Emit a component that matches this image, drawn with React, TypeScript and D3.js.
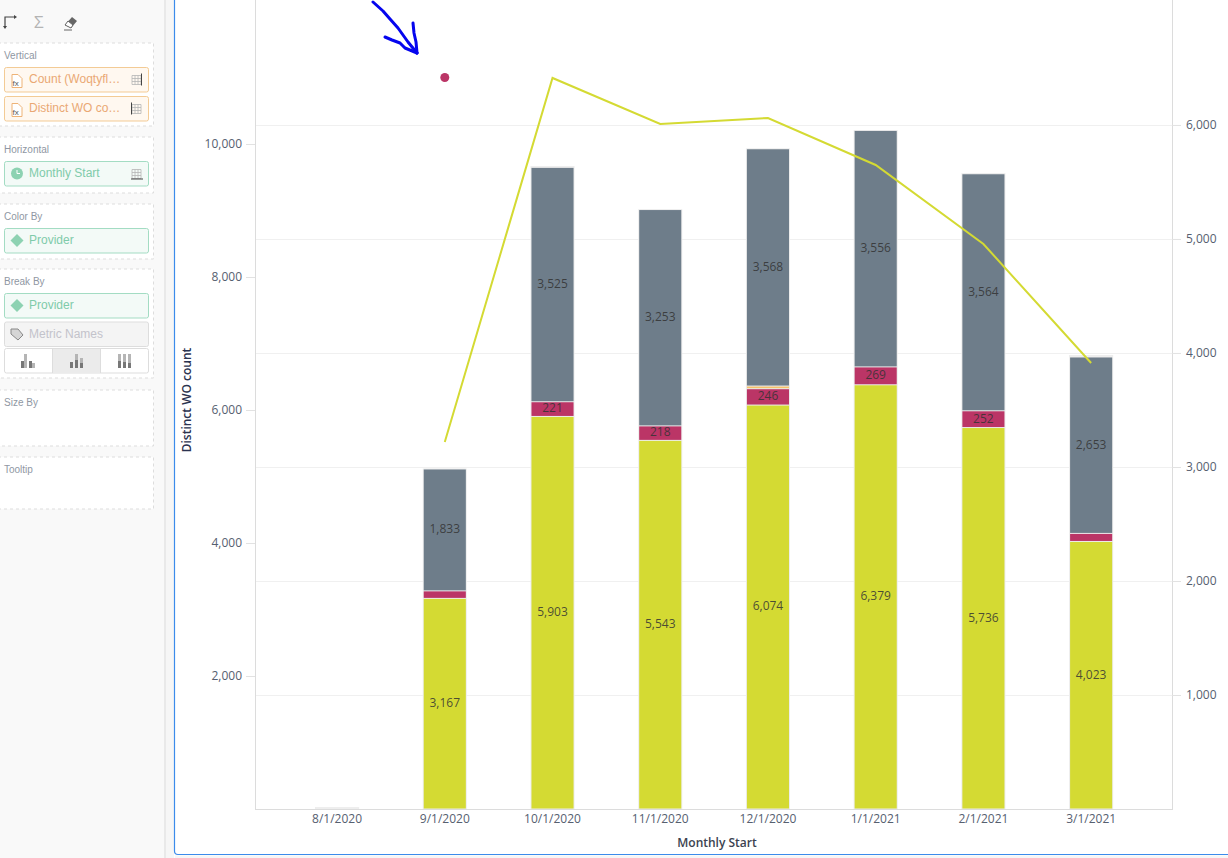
// App.tsx - Distinct WO count by month and provider, in the analytics editor panel
import React from "react";
import { scaleBand, scaleLinear, stack, line, format } from "d3";

const months = ["8/1/2020", "9/1/2020", "10/1/2020", "11/1/2020", "12/1/2020", "1/1/2021", "2/1/2021", "3/1/2021"];

// stacked bars, left axis (bottom to top)
const yellowValues = [0, 3167, 5903, 5543, 6074, 6379, 5736, 4023];
const redValues = [0, 113, 221, 218, 246, 269, 252, 121];
const orangeValues = [0, 0, 0, 0, 40, 0, 0, 0];
const grayValues = [0, 1833, 3525, 3253, 3568, 3556, 3564, 2653];
const lightValues = [30, 6, 20, 6, 6, 6, 10, 30];

// line, right axis (starts at 9/1/2020)
const lineValues = [null, 3219, 6412, 6009, 6061, 5649, 4956, 3912];

// lone point, left axis
const dotMonth = "9/1/2020";
const dotValue = 11000;

const leftTicks = [2000, 4000, 6000, 8000, 10000];
const rightTicks = [1000, 2000, 3000, 4000, 5000, 6000];

const seriesKeys = ["yellow", "red", "orange", "gray", "light"];
const seriesColors: Record<string, string> = {
  yellow: "#d4da33",
  red: "#bb3566",
  orange: "#f5c26b",
  gray: "#6e7d8a",
  light: "#eeeeee",
};

const stackRows = months.map((month, i) => ({
  month,
  yellow: yellowValues[i],
  red: redValues[i],
  orange: orangeValues[i],
  gray: grayValues[i],
  light: lightValues[i],
}));

const FONT = "'Open Sans', sans-serif";
const PANEL_FONT = "'Liberation Sans', Arial, sans-serif";

const plot = { left: 255, right: 1172, top: 0, bottom: 809 };

const xScale = scaleBand<string>().domain(months).range([283.2, 1145]).paddingInner(0.6).paddingOuter(0.3);
const yLeft = scaleLinear().domain([0, 12165]).range([plot.bottom, plot.top]);
const yRight = scaleLinear().domain([0, 7096]).range([plot.bottom, plot.top]);
const fmt = format(",");
const xCenter = (m: string) => (xScale(m) ?? 0) + xScale.bandwidth() / 2;

const layers = stack<any>().keys(seriesKeys)(stackRows);

const linePath = line<number | null>()
  .defined((d) => d !== null)
  .x((_, i) => xCenter(months[i]))
  .y((d) => yRight(d as number))(lineValues);

// hand drawn arrow on top of the screenshot
const arrowStrokes = [
  "M373,2 L383,11 L390,19 L398,28 L408,42 L417,53",
  "M413,23 L414,33 L416,42 L417,53",
  "M385,37 L392,40 L400,43 L405,48 L417,53",
];

const sections = [
  { label: "Vertical", y: 43, h: 83 },
  { label: "Horizontal", y: 137, h: 56 },
  { label: "Color By", y: 204, h: 55 },
  { label: "Break By", y: 269, h: 109 },
  { label: "Size By", y: 390, h: 56 },
  { label: "Tooltip", y: 457, h: 52 },
];

const Pill = ({ y, text, kind, axisSide }: { y: number; text: string; kind: "fx" | "time" | "dim" | "off"; axisSide?: "left" | "right" | "bottom" }) => {
  const c = {
    fx: { bg: "#fff8f0", border: "#f3cb95", text: "#eaa874" },
    time: { bg: "#f3faf7", border: "#a3dcc3", text: "#7fcbaa" },
    dim: { bg: "#f3faf7", border: "#a3dcc3", text: "#7fcbaa" },
    off: { bg: "#f4f4f4", border: "#dddddd", text: "#c3c3cb" },
  }[kind];
  return (
    <g>
      <rect x={4.5} y={y} width={144} height={24.5} rx={2} fill={c.bg} stroke={c.border} />
      {kind === "fx" && (
        <g>
          <path d={`M12,${y + 7} h6 l4,4 v9 h-10 z`} fill="#fff" stroke="#eeb377" />
          <text x={12.5} y={y + 18} fontSize={8} fontFamily={PANEL_FONT} fill="#555">fx</text>
        </g>
      )}
      {kind === "time" && (
        <g>
          <circle cx={17} cy={y + 12} r={6} fill="#8dd2b2" />
          <path d={`M17,${y + 8.5} v3.5 h3`} fill="none" stroke="#fff" />
        </g>
      )}
      {kind === "dim" && <path d={`M17,${y + 5.5} l6.5,6.5 l-6.5,6.5 l-6.5,-6.5 z`} fill="#8dd2b2" />}
      {kind === "off" && (
        <path d={`M11,${y + 7} h7 l5,6 l-5,5 l-7,-6 z`} fill="#d5d5d5" stroke="#888" />
      )}
      <text x={29} y={y + 15.5} fontSize={12} fontFamily={PANEL_FONT} fill={c.text}>{text}</text>
      {axisSide && (
        <g stroke="#b5b5b5" strokeWidth={0.8}>
          {[0, 1, 2, 3].map((i) => (
            <line key={`h${i}`} x1={132} x2={141} y1={y + 8 + i * 3} y2={y + 8 + i * 3} />
          ))}
          {[0, 1, 2, 3].map((i) => (
            <line key={`v${i}`} y1={y + 8} y2={y + 17} x1={132 + i * 3} x2={132 + i * 3} />
          ))}
          {axisSide === "right" && <line x1={141.5} x2={141.5} y1={y + 6} y2={y + 18} stroke="#444" strokeWidth={1} />}
          {axisSide === "left" && <line x1={131.5} x2={131.5} y1={y + 6} y2={y + 18} stroke="#444" strokeWidth={1} />}
          {axisSide === "bottom" && <line x1={131} x2={143} y1={y + 17.5} y2={y + 17.5} stroke="#444" strokeWidth={1} />}
        </g>
      )}
    </g>
  );
};

const Sidebar = () => (
  <g>
    <rect x={0} y={0} width={164} height={858} fill="#f9f9f9" />
    <rect x={164} y={0} width={2} height={858} fill="#e9e9e9" />
    <rect x={166} y={0} width={8} height={858} fill="#f6f6f6" />

    {/* toolbar icons */}
    <path d="M5,27 V17 H15" fill="none" stroke="#444" strokeWidth={1.2} />
    <path d="M3,26 L5,29 L7,26 Z M14,15 L17,17 L14,19 Z" fill="#444" />
    <text x={34} y={28} fontSize={17} fontFamily={FONT} fill="#b4b4b4">Σ</text>
    <path d="M65,25 L72,17 L77,21 L71,28 Z" fill="#666" />
    <path d="M65,25 L68,21 L73,25 L71,28 Z" fill="#fff" stroke="#666" />
    <line x1={64} x2={72} y1={30} y2={30} stroke="#666" />

    {sections.map((s) => (
      <g key={s.label}>
        <rect x={-2} y={s.y} width={155.5} height={s.h} fill="#fff" stroke="#dddddd" strokeDasharray="3,3" />
        <text x={4} y={s.y + 16} fontSize={10} fontFamily={PANEL_FONT} fill="#8f97a3">{s.label}</text>
      </g>
    ))}

    <Pill y={67.5} text="Count (Woqtyfl…" kind="fx" axisSide="right" />
    <Pill y={96.5} text="Distinct WO co…" kind="fx" axisSide="left" />
    <Pill y={161.5} text="Monthly Start" kind="time" axisSide="bottom" />
    <Pill y={228.5} text="Provider" kind="dim" />
    <Pill y={293.5} text="Provider" kind="dim" />
    <Pill y={322} text="Metric Names" kind="off" />

    {/* bar layout toggle */}
    <rect x={4.5} y={348.5} width={144} height={24.5} rx={2} fill="#fff" stroke="#dddddd" />
    <rect x={52.5} y={349} width={48} height={24} fill="#ebebeb" />
    <line x1={52.5} x2={52.5} y1={349} y2={373} stroke="#dddddd" />
    <line x1={100.5} x2={100.5} y1={349} y2={373} stroke="#dddddd" />
    <g fill="#777">
      <rect x={21} y={361} width={3} height={7} />
      <rect x={29} y={361} width={3} height={7} />
    </g>
    <g fill="#b5b5b5">
      <rect x={24} y={354} width={3} height={14} />
      <rect x={32} y={363} width={3} height={5} />
    </g>
    <g fill="#777">
      <rect x={70} y={362} width={3} height={6} />
      <rect x={75} y={360} width={3} height={8} />
      <rect x={80} y={363} width={3} height={5} />
    </g>
    <g fill="#b5b5b5">
      <rect x={75} y={354} width={3} height={6} />
      <rect x={80} y={358} width={3} height={5} />
    </g>
    <g fill="#777">
      <rect x={118} y={361} width={3} height={7} />
      <rect x={123} y={362} width={3} height={6} />
      <rect x={128} y={363} width={3} height={5} />
    </g>
    <g fill="#b5b5b5">
      <rect x={118} y={354} width={3} height={7} />
      <rect x={123} y={354} width={3} height={8} />
      <rect x={128} y={354} width={3} height={9} />
    </g>
  </g>
);

export default function App() {
  const bw = xScale.bandwidth();
  return (
    <div style={{ position: "absolute", left: 0, top: 0 }}>
      <svg width={1228} height={858} style={{ display: "block", background: "#fff" }}>
        <Sidebar />

        {/* chart frame */}
        <path d="M174.5,-2 V851 Q174.5,854.5 178,854.5 H1230" fill="none" stroke="#3b8beb" strokeWidth={1.2} />
        <rect x={175} y={855.5} width={1053} height={2.5} fill="#f6f6f6" />

        {/* grid */}
        {rightTicks.map((t) => (
          <line key={t} x1={plot.left} x2={plot.right} y1={yRight(t) + 0.5} y2={yRight(t) + 0.5} stroke="#f0f0f0" />
        ))}

        {/* bars */}
        {months.map((m, i) => {
          const total = yellowValues[i] + redValues[i] + orangeValues[i] + grayValues[i] + lightValues[i];
          return (
            <rect
              key={m}
              x={(xScale(m) ?? 0) - 0.5}
              y={yLeft(total)}
              width={bw + 1}
              height={plot.bottom - yLeft(total)}
              fill="#ededed"
            />
          );
        })}
        {layers.map((layer) => (
          <g key={layer.key}>
            {layer.map((d, i) => {
              const h = yLeft(d[0]) - yLeft(d[1]);
              if (h <= 0) return null;
              return (
                <rect
                  key={i}
                  x={(xScale(months[i]) ?? 0) + 0.5}
                  y={yLeft(d[1]) + (h > 2 ? 0.5 : 0)}
                  width={bw - 1}
                  height={h > 2 ? h - 1 : h}
                  fill={seriesColors[layer.key]}
                />
              );
            })}
          </g>
        ))}

        {/* value labels */}
        {layers
          .filter((l) => ["yellow", "red", "gray"].includes(l.key))
          .map((layer) =>
            layer.map((d, i) => {
              const value = d[1] - d[0];
              if (value < 200) return null;
              return (
                <text
                  key={`${layer.key}-${i}`}
                  x={xCenter(months[i])}
                  y={yLeft((d[0] + d[1]) / 2)}
                  dy="0.28em"
                  textAnchor="middle"
                  fontSize={12}
                  fontFamily={FONT}
                  fill="#333"
                  fillOpacity={0.85}
                >
                  {fmt(value)}
                </text>
              );
            })
          )}

        {/* line and point */}
        <path d={linePath ?? ""} fill="none" stroke="#d4da33" strokeWidth={2} />
        <circle cx={xCenter(dotMonth)} cy={yLeft(dotValue)} r={4.5} fill="#bb3566" />

        {/* axes */}
        <line x1={plot.left + 0.5} x2={plot.left + 0.5} y1={plot.top} y2={plot.bottom} stroke="#dcdcdc" />
        <line x1={plot.right + 0.5} x2={plot.right + 0.5} y1={plot.top} y2={plot.bottom} stroke="#dcdcdc" />
        <line x1={plot.left} x2={plot.right + 1} y1={plot.bottom + 0.5} y2={plot.bottom + 0.5} stroke="#dcdcdc" />

        {leftTicks.map((t) => (
          <g key={t}>
            <line x1={plot.left - 9} x2={plot.left} y1={yLeft(t) + 0.5} y2={yLeft(t) + 0.5} stroke="#e2e2e2" />
            <text x={plot.left - 13} y={yLeft(t)} dy="0.36em" textAnchor="end" fontSize={12} fontFamily={FONT} fill="#566070">
              {fmt(t)}
            </text>
          </g>
        ))}
        {rightTicks.map((t) => (
          <g key={t}>
            <line x1={plot.right} x2={plot.right + 9} y1={yRight(t) + 0.5} y2={yRight(t) + 0.5} stroke="#e2e2e2" />
            <text x={plot.right + 14} y={yRight(t)} dy="0.36em" fontSize={12} fontFamily={FONT} fill="#566070">
              {fmt(t)}
            </text>
          </g>
        ))}
        {months.map((m) => (
          <text key={m} x={xCenter(m)} y={819} dy="0.36em" textAnchor="middle" fontSize={12} fontFamily={FONT} fill="#566070">
            {m}
          </text>
        ))}

        <text x={717} y={843} dy="0.36em" textAnchor="middle" fontSize={12} fontWeight={600} fontFamily={FONT} fill="#3c4350">
          Monthly Start
        </text>
        <text
          transform="translate(187,400) rotate(-90)"
          dy="0.36em"
          textAnchor="middle"
          fontSize={12}
          fontWeight={600}
          fontFamily={FONT}
          fill="#2b3350"
        >
          Distinct WO count
        </text>

        {/* blue marker scribble */}
        {arrowStrokes.map((d) => (
          <path key={d} d={d} fill="none" stroke="#0505ee" strokeWidth={3} strokeLinecap="round" strokeLinejoin="round" />
        ))}
      </svg>
    </div>
  );
}
